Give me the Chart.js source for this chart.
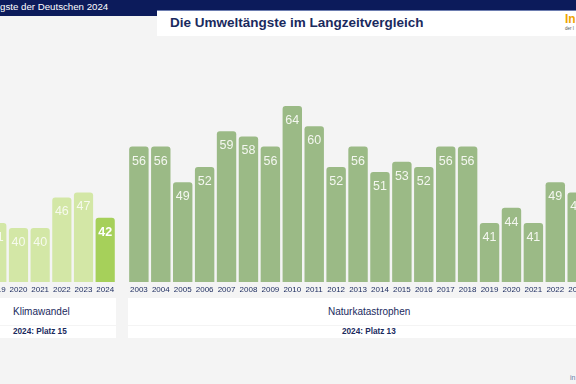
<!DOCTYPE html>
<html>
<head>
<meta charset="utf-8">
<script src="https://cdn.jsdelivr.net/npm/chart.js@4.4.1/dist/chart.umd.min.js"></script>
<style>
  html, body { margin:0; padding:0; }
  body { width:576px; height:384px; overflow:hidden; position:relative; background:#f4f4f4; font-family:"Liberation Sans", Arial, sans-serif; }
  .abs { position:absolute; }
  #navyTop { left:0; top:0; width:576px; height:10px; background:#0c1b5b; }
  #navyLeft { left:0; top:0; width:157px; height:16px; background:#0c1b5b; }
  #navyLine { left:157px; top:10px; width:419px; height:1px; background:#6d7db0; }
  #crumb { left:0; top:1px; color:#fff; font-size:9.7px; line-height:12px; white-space:nowrap; }
  #titleBox { left:157px; top:11px; width:419px; height:25px; background:#fff; }
  #title { left:170px; top:15px; color:#1a2a5e; font-weight:bold; font-size:13.5px; line-height:16px; white-space:nowrap; }
  #logo { left:565px; top:12px; color:#f0a400; font-weight:bold; font-size:12px; line-height:14px; }
  #logoSub { left:565px; top:26px; color:#555; font-size:4.5px; line-height:5px; white-space:nowrap; }
  .box { background:#fff; }
  .name { color:#1a2a5e; font-size:10px; line-height:12px; white-space:nowrap; }
  .rank { color:#1a2a5e; font-size:8.2px; font-weight:bold; line-height:10px; white-space:nowrap; }
  #foot { left:570px; top:373px; color:#6a7aa6; font-size:7px; line-height:9px; }
  canvas { position:absolute; }
</style>
</head>
<body>
<div id="navyTop" class="abs"></div>
<div id="navyLeft" class="abs"></div>
<div id="navyLine" class="abs"></div>
<div id="crumb" class="abs">gste der Deutschen 2024</div>
<div id="titleBox" class="abs"></div>
<div id="title" class="abs">Die Umweltängste im Langzeitvergleich</div>
<div id="logo" class="abs">In</div>
<div id="logoSub" class="abs">der I</div>

<div class="abs box" style="left:0;top:298px;width:116px;height:27px;"></div>
<div class="abs box" style="left:0;top:326px;width:116px;height:12px;"></div>
<div class="abs box" style="left:128px;top:298px;width:448px;height:27px;"></div>
<div class="abs box" style="left:128px;top:326px;width:448px;height:12px;"></div>

<div class="abs name" style="left:13px;top:306px;">Klimawandel</div>
<div class="abs rank" style="left:13px;top:327px;">2024: Platz 15</div>
<div class="abs name" style="left:328px;top:306px;">Naturkatastrophen</div>
<div class="abs rank" style="left:342px;top:327px;">2024: Platz 13</div>
<div id="foot" class="abs">in</div>

<canvas id="klima" width="132" height="210" style="left:-15px;top:90px;"></canvas>
<canvas id="natur" width="484" height="210" style="left:127px;top:90px;"></canvas>

<script>
// ---- data ----
const klimaYears  = ["2019","2020","2021","2022","2023","2024"];
const klimaValues = [41, 40, 40, 46, 47, 42];

const naturYears  = ["2003","2004","2005","2006","2007","2008","2009","2010","2011","2012","2013",
                     "2014","2015","2016","2017","2018","2019","2020","2021","2022","2023","2024"];
const naturValues = [56, 56, 49, 52, 59, 58, 56, 64, 60, 52, 56,
                     51, 53, 52, 56, 56, 41, 44, 41, 49, 47, 42];

const currentYear = "2024";

// ---- styles ----
const NAVY = "#1a2a5e";
const KLIMA_LIGHT = "#d3e7a6";
const KLIMA_DARK = "#a6d05a";
const NATUR = "#9bba86";

const valueLabels = {
  id: "valueLabels",
  afterDatasetsDraw(chart) {
    const ctx = chart.ctx;
    const meta = chart.getDatasetMeta(0);
    const ds = chart.data.datasets[0];
    const labels = chart.data.labels;
    ctx.save();
    ctx.textAlign = "center";
    ctx.textBaseline = "middle";
    meta.data.forEach((bar, i) => {
      const bold = ds.boldLast && labels[i] === currentYear;
      ctx.font = (bold ? "bold " : "") + "12.5px 'Liberation Sans', Arial, sans-serif";
      ctx.fillStyle = bold ? "#ffffff" : ds.labelColor;
      ctx.fillText(String(ds.data[i]), bar.x, bar.y + 14.5);
    });
    ctx.restore();
  }
};

function makeChart(id, labels, values, colors, labelColor, boldLast) {
  return new Chart(document.getElementById(id), {
    type: "bar",
    data: {
      labels: labels,
      datasets: [{
        data: values,
        backgroundColor: colors,
        borderWidth: 0,
        borderRadius: 3,
        borderSkipped: "bottom",
        categoryPercentage: 1.0,
        barPercentage: 0.886,
        labelColor: labelColor,
        boldLast: boldLast
      }]
    },
    options: {
      responsive: false,
      animation: false,
      devicePixelRatio: 1,
      layout: { padding: 0 },
      plugins: { legend: { display: false }, tooltip: { enabled: false } },
      scales: {
        y: { display: false, min: 29.4, max: 67.12 },
        x: {
          display: true,
          grid: { display: false, drawTicks: false },
          border: { display: false },
          ticks: { color: NAVY, font: { size: 8, family: "'Liberation Sans', Arial, sans-serif" }, padding: 3, maxRotation: 0, autoSkip: false },
          afterFit(s) { s.height = 18; }
        }
      }
    },
    plugins: [valueLabels]
  });
}

makeChart("klima", klimaYears, klimaValues,
  klimaYears.map(y => y === currentYear ? KLIMA_DARK : KLIMA_LIGHT),
  "rgba(255,255,255,0.8)", true);
makeChart("natur", naturYears, naturValues,
  naturYears.map(() => NATUR),
  "#f4f7f0", false);
</script>
</body>
</html>
